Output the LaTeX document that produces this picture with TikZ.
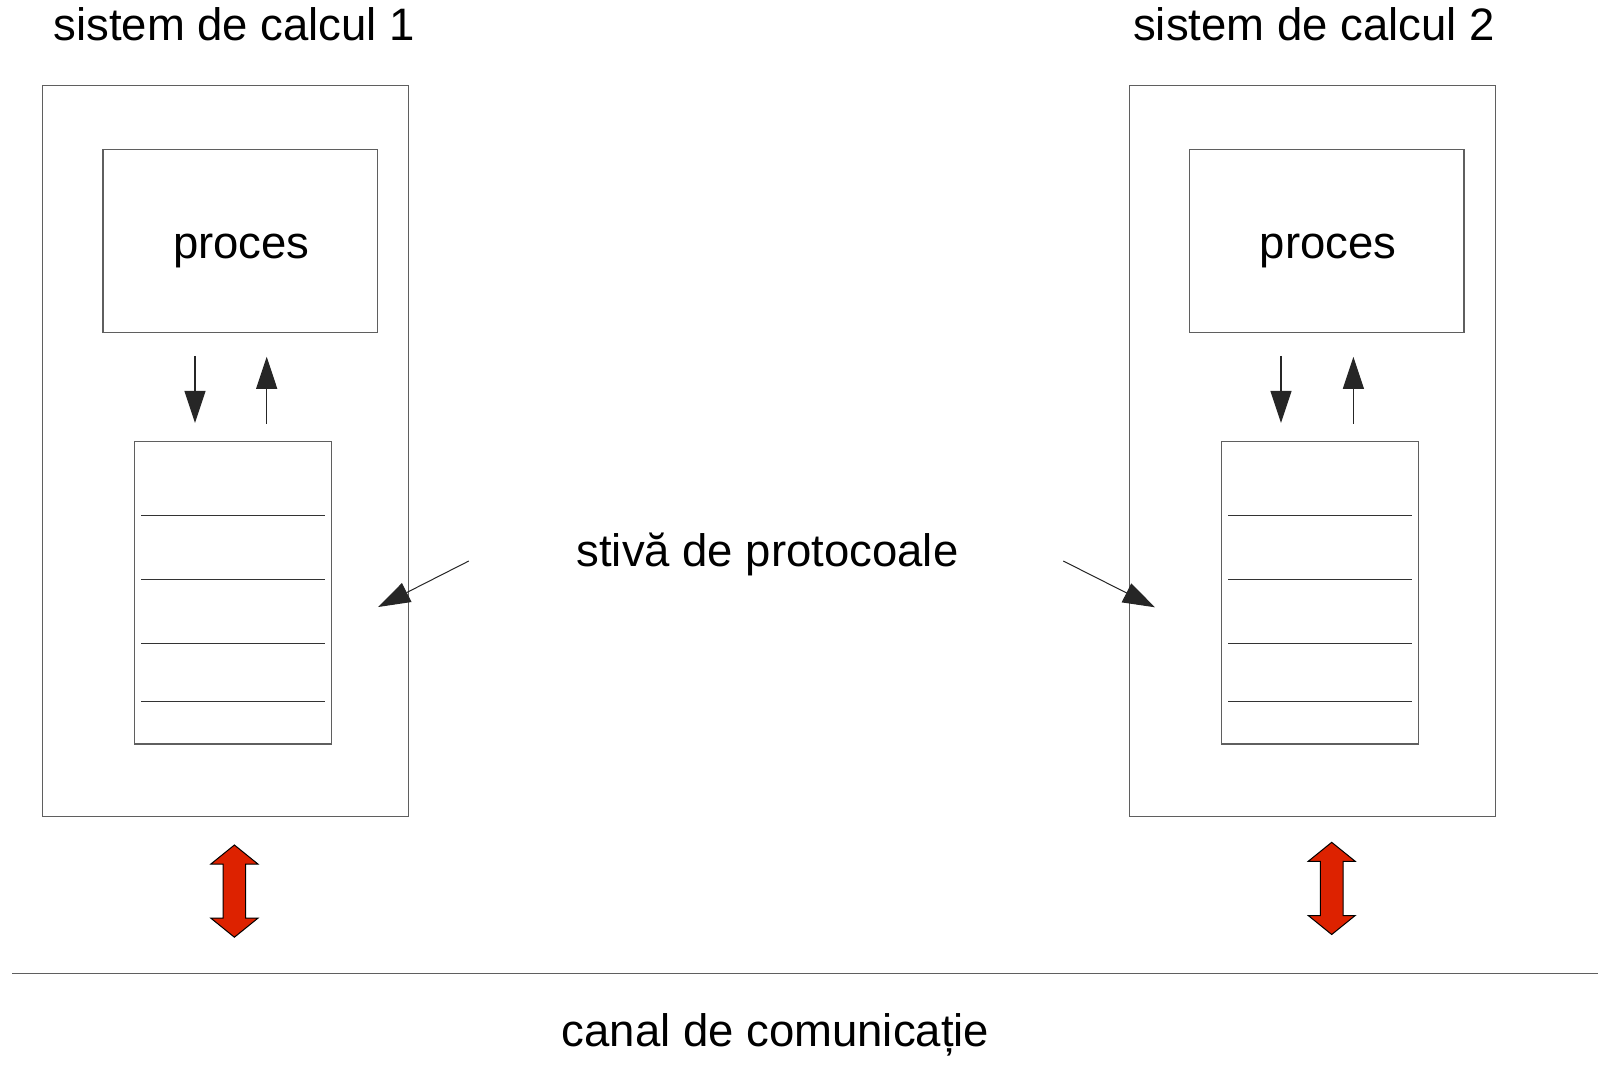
\documentclass[tikz,border=0pt]{standalone}
\usepackage{fontspec}
\setmainfont{Liberation Sans}
\usetikzlibrary{arrows.meta,calc}
\definecolor{redarrow}{RGB}{221,34,0}
\definecolor{boxline}{RGB}{95,95,95}

\begin{document}
\begin{tikzpicture}[x=1pt,y=-1pt,
  box/.style={draw=boxline,line width=1.2pt,inner sep=0pt,rectangle},
  layer/.style={draw=black!80,line width=1.1pt},
  lbl/.style={font=\fontsize{45.5}{54}\selectfont,inner sep=0pt,anchor=base},
  arr/.style={draw=black!85,line width=1.1pt,-{Triangle[length=32pt,width=21pt]}},
  bigarrow/.style={fill=redarrow,draw=black,line width=1pt,line join=miter}
]
\useasboundingbox (0,0) rectangle (1598,1085);

% titles
\node[lbl] (title1) at (234.3,40.5) {sistem de calcul 1};
\node[lbl] (title2) at (1314,40.5) {sistem de calcul 2};

% computer 1
\node[box,minimum width=365.9pt,minimum height=730.7pt] (sys1) at (225.75,450.95) {};
\node[box,minimum width=274.2pt,minimum height=182.4pt] (p1) at (240,241) {};
\node[lbl] (lp1) at (241.3,258) {proces};
\node[box,minimum width=197pt,minimum height=302.5pt] (s1) at (233,592.75) {};
\foreach \d in {74.2,138.5,202.6,260.7}
  \draw[layer] ($(s1.north west)+(7.2,\d)$) -- ($(s1.north east)+(-7,\d)$);
\draw[arr,shorten <=23pt,shorten >=18pt] ([xshift=-45pt]p1.south) -- ([xshift=-45pt]p1.south |- s1.north);
\draw[arr,shorten <=17pt,shorten >=24pt] ([xshift=33.7pt]s1.north) -- ([xshift=33.7pt]s1.north |- p1.south);

% computer 2
\node[box,minimum width=365.9pt,minimum height=730.7pt] (sys2) at (1312.6,450.95) {};
\node[box,minimum width=274.2pt,minimum height=182.4pt] (p2) at (1326.9,241) {};
\node[lbl] (lp2) at (1328,258) {proces};
\node[box,minimum width=197pt,minimum height=302.5pt] (s2) at (1320,592.75) {};
\foreach \d in {74.2,138.5,202.6,260.7}
  \draw[layer] ($(s2.north west)+(7.2,\d)$) -- ($(s2.north east)+(-7,\d)$);
\draw[arr,shorten <=23pt,shorten >=18pt] ([xshift=-45.9pt]p2.south) -- ([xshift=-45.9pt]p2.south |- s2.north);
\draw[arr,shorten <=17pt,shorten >=24pt] ([xshift=33.4pt]s2.north) -- ([xshift=33.4pt]s2.north |- p2.south);

% protocol stack label and pointers
\node[lbl] (stack) at (767.5,566.7) {stivă de protocoale};
\coordinate (t1) at (468.8,561);
\coordinate (h1) at (378.2,607);
\coordinate (t2) at (1063.3,561);
\coordinate (h2) at (1155,607.3);
\draw[arr,line width=1pt] (t1) -- (h1);
\draw[arr,line width=1pt] (t2) -- (h2);

% links to the channel
\coordinate (c1) at (234.4,891.2);
\coordinate (c2) at (1331.7,888.5);
\foreach \c in {c1,c2}
  \draw[bigarrow] ($(\c)+(0,-46.2)$) -- ++(23.5,19) -- ++(-12.2,0) -- ++(0,54.2)
    -- ++(12.2,0) -- ++(-23.5,19) -- ++(-23.5,-19) -- ++(12.2,0) -- ++(0,-54.2)
    -- ++(-12.2,0) -- cycle;

% communication channel
\coordinate (chL) at (12,973.3);
\coordinate (chR) at (1598,973.3);
\draw[draw=boxline,line width=1.6pt] (chL) -- (chR);
\node[lbl] (chan) at (775.5,1046) {canal de comunicație};
\end{tikzpicture}
\end{document}
